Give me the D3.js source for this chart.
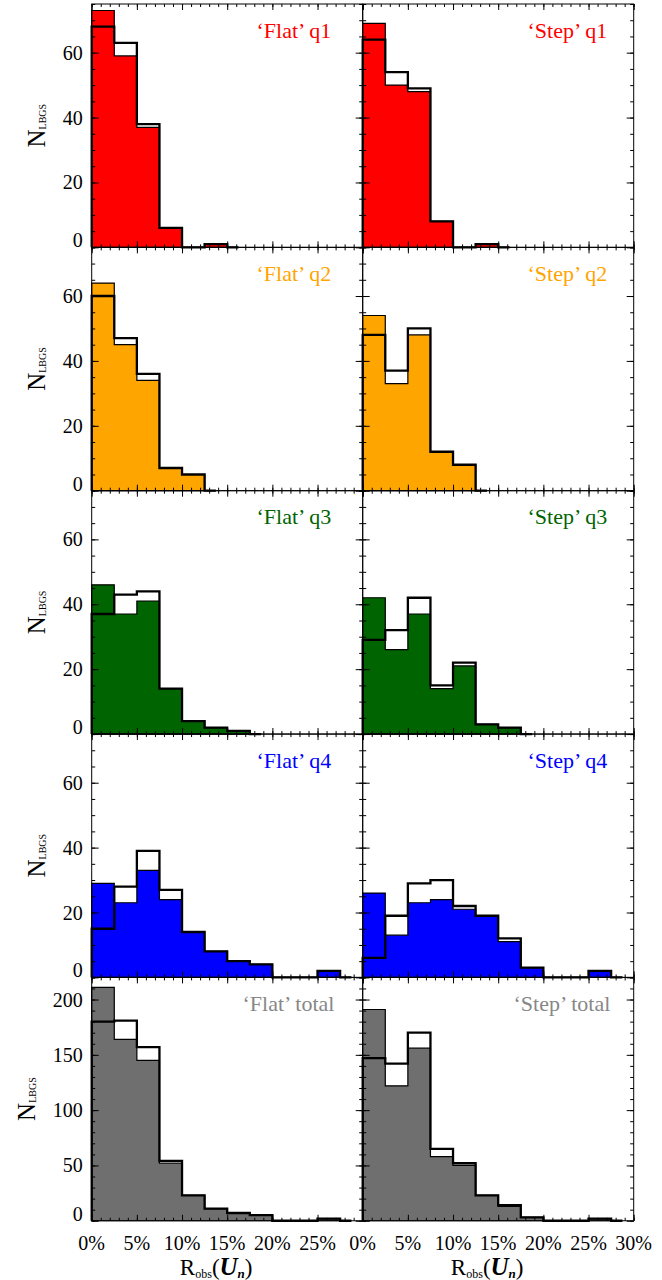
<!DOCTYPE html>
<html>
<head>
<meta charset="utf-8">
<script src="https://cdn.jsdelivr.net/npm/d3@7"></script>
<style>
  html, body { margin: 0; padding: 0; background: #fff; }
  svg { display: block; }
  text { font-family: "Liberation Serif", "Times New Roman", "DejaVu Serif", serif; }
</style>
</head>
<body>
<script>
// ---------------- DATA ----------------
const binWidth = 2.5;           // histogram bin width in %
const xMax = 30;
const xMajorTicks = [0, 5, 10, 15, 20, 25, 30];
const xTickLabelsLeft = ["0%", "5%", "10%", "15%", "20%", "25%"];
const xTickLabelsRight = ["0%", "5%", "10%", "15%", "20%", "25%", "30%"];

const rowYMax = [75, 75, 75, 75, 220];
const rowYMajor = [20, 20, 20, 20, 50];
const rowYMinor = [5, 5, 5, 5, 10];

// filled histograms (coloured) and outline histograms (black step)
const flatQ1Fill = [73, 59, 37, 6, 0, 1];
const flatQ1Line = [68, 63, 38, 6, 0, 1];
const stepQ1Fill = [69, 50, 48, 8, 0, 1];
const stepQ1Line = [64, 54, 49, 8, 0, 1];

const flatQ2Fill = [64, 45, 34, 7, 5];
const flatQ2Line = [60, 47, 36, 7, 5];
const stepQ2Fill = [54, 33, 48, 12, 8];
const stepQ2Line = [48, 37, 50, 12, 8];

const flatQ3Fill = [46, 37, 41, 14, 4, 2, 1];
const flatQ3Line = [37, 43, 44, 14, 4, 2, 1];
const stepQ3Fill = [42, 26, 37, 14, 21, 3, 2];
const stepQ3Line = [29, 32, 42, 15, 22, 3, 2];

const flatQ4Fill = [29, 23, 33, 24, 14, 8, 5, 4, 0, 0, 2];
const flatQ4Line = [15, 28, 39, 27, 14, 8, 5, 4, 0, 0, 2];
const stepQ4Fill = [26, 13, 23, 24, 21, 19, 11, 3, 0, 0, 2];
const stepQ4Line = [6, 19, 29, 30, 22, 19, 12, 3, 0, 0, 2];

const flatTotFill = [211, 164, 145, 52, 23, 11, 7, 5, 0, 0, 2];
const flatTotLine = [180, 181, 157, 54, 23, 11, 7, 5, 0, 0, 2];
const stepTotFill = [191, 122, 156, 58, 50, 23, 13, 3, 0, 0, 2];
const stepTotLine = [147, 142, 170, 65, 52, 23, 14, 3, 0, 0, 2];

const panelLabels = [
  ["\u2018Flat\u2019 q1", "\u2018Step\u2019 q1"],
  ["\u2018Flat\u2019 q2", "\u2018Step\u2019 q2"],
  ["\u2018Flat\u2019 q3", "\u2018Step\u2019 q3"],
  ["\u2018Flat\u2019 q4", "\u2018Step\u2019 q4"],
  ["\u2018Flat\u2019 total", "\u2018Step\u2019 total"]
];
const labelX = [18.25, 18.25, 18.25, 18.25, 16.7];   // label position in data units (%)

const fillColors = ["#ff0000", "#ffa500", "#006400", "#0000ff", "#6f6f6f"];
const labelColors = ["#ff0000", "#ffa500", "#006400", "#0000ff", "#878787"];

const fillData = [
  [flatQ1Fill, stepQ1Fill], [flatQ2Fill, stepQ2Fill], [flatQ3Fill, stepQ3Fill],
  [flatQ4Fill, stepQ4Fill], [flatTotFill, stepTotFill]
];
const lineData = [
  [flatQ1Line, stepQ1Line], [flatQ2Line, stepQ2Line], [flatQ3Line, stepQ3Line],
  [flatQ4Line, stepQ4Line], [flatTotLine, stepTotLine]
];

// ---------------- LAYOUT ----------------
const W = 662, H = 1280;
const X0 = 91.7, COLW = 271, TOP = 4, ROWH = 243.35;

const svg = d3.select("body").append("svg").attr("width", W).attr("height", H);

function stepPoints(vals) {
  const pts = [[0, 0]];
  vals.forEach((v, i) => {
    pts.push([i * binWidth, v]);
    pts.push([(i + 1) * binWidth, v]);
  });
  const end = vals.length * binWidth;
  pts.push([end, 0]);
  pts.push([end + binWidth / 2, 0]);
  return pts;
}

for (let r = 0; r < 5; r++) {
  for (let c = 0; c < 2; c++) {
    const left = X0 + c * COLW, right = left + COLW;
    const top = TOP + r * ROWH, bottom = top + ROWH;
    const x = d3.scaleLinear().domain([0, xMax]).range([left, right]);
    const y = d3.scaleLinear().domain([0, rowYMax[r]]).range([bottom, top]);
    const line = d3.line().x(d => x(d[0])).y(d => y(d[1]));
    const g = svg.append("g");

    // filled histogram
    g.append("path")
      .attr("d", line(stepPoints(fillData[r][c])) + "Z")
      .attr("fill", fillColors[r])
      .attr("stroke", "#000")
      .attr("stroke-width", 1.2)
      .attr("stroke-linejoin", "miter");

    // outline histogram
    g.append("path")
      .attr("d", line(stepPoints(lineData[r][c])))
      .attr("fill", "none")
      .attr("stroke", "#000")
      .attr("stroke-width", 2.3)
      .attr("stroke-linejoin", "miter");

    // ticks (inward, all four sides)
    const yMajor = d3.range(0, rowYMax[r] + 0.001, rowYMajor[r]);
    const yMinor = d3.range(0, rowYMax[r] + 0.001, rowYMinor[r]);
    const xMinor = d3.range(0, xMax + 0.001, 1);
    const ax = [
      [d3.axisBottom(x).tickValues(xMajorTicks).tickSize(-6), `translate(0,${bottom})`],
      [d3.axisBottom(x).tickValues(xMinor).tickSize(-3), `translate(0,${bottom})`],
      [d3.axisTop(x).tickValues(xMajorTicks).tickSize(-6), `translate(0,${top})`],
      [d3.axisTop(x).tickValues(xMinor).tickSize(-3), `translate(0,${top})`],
      [d3.axisLeft(y).tickValues(yMajor).tickSize(-7), `translate(${left},0)`],
      [d3.axisLeft(y).tickValues(yMinor).tickSize(-3.5), `translate(${left},0)`],
      [d3.axisRight(y).tickValues(yMajor).tickSize(-7), `translate(${right},0)`],
      [d3.axisRight(y).tickValues(yMinor).tickSize(-3.5), `translate(${right},0)`]
    ];
    ax.forEach(([a, t]) => {
      const ag = g.append("g").attr("transform", t).call(a.tickFormat(""));
      ag.select(".domain").remove();
      ag.selectAll("line").attr("stroke", "#000").attr("stroke-width", 1);
    });

    // frame
    g.append("rect")
      .attr("x", left).attr("y", top).attr("width", COLW).attr("height", ROWH)
      .attr("fill", "none").attr("stroke", "#000").attr("stroke-width", 1);

    // panel label
    g.append("text")
      .attr("x", x(labelX[r])).attr("y", top + 33.5)
      .attr("font-size", 22).attr("fill", labelColors[r])
      .text(panelLabels[r][c]);

    // y tick labels (left column only)
    if (c === 0) {
      yMajor.forEach(v => {
        g.append("text")
          .attr("x", left - 9)
          .attr("y", v === 0 ? y(v) : y(v) + 7)
          .attr("text-anchor", "end")
          .attr("font-size", 20)
          .text(v);
      });
      const lx = r === 4 ? 35 : 45;
      const ly = (top + bottom) / 2;
      const t = g.append("text")
        .attr("transform", `translate(${lx},${ly}) rotate(-90)`)
        .attr("text-anchor", "middle");
      t.append("tspan").attr("font-size", 25).text("N");
      t.append("tspan").attr("font-size", 10).attr("dy", 1).text("LBGS");
    }

    // x tick labels (bottom row)
    if (r === 4) {
      const labs = c === 0 ? xTickLabelsLeft : xTickLabelsRight;
      labs.forEach((s, i) => {
        g.append("text")
          .attr("x", x(xMajorTicks[i])).attr("y", 1250)
          .attr("text-anchor", "middle").attr("font-size", 20)
          .text(s);
      });
      const tt = g.append("text")
        .attr("x", (left + right) / 2 - 11).attr("y", 1275)
        .attr("text-anchor", "middle");
      tt.append("tspan").attr("font-size", 23).text("R");
      tt.append("tspan").attr("font-size", 12).attr("dy", 3).text("obs");
      tt.append("tspan").attr("font-size", 23).attr("dy", -3).text("(");
      tt.append("tspan").attr("font-size", 25).attr("font-weight", "bold").attr("font-style", "italic").text("U");
      tt.append("tspan").attr("font-size", 13).attr("dy", 3).attr("font-weight", "bold").attr("font-style", "italic").text("n");
      tt.append("tspan").attr("font-size", 23).attr("dy", -3).text(")");
    }
  }
}
</script>
</body>
</html>
